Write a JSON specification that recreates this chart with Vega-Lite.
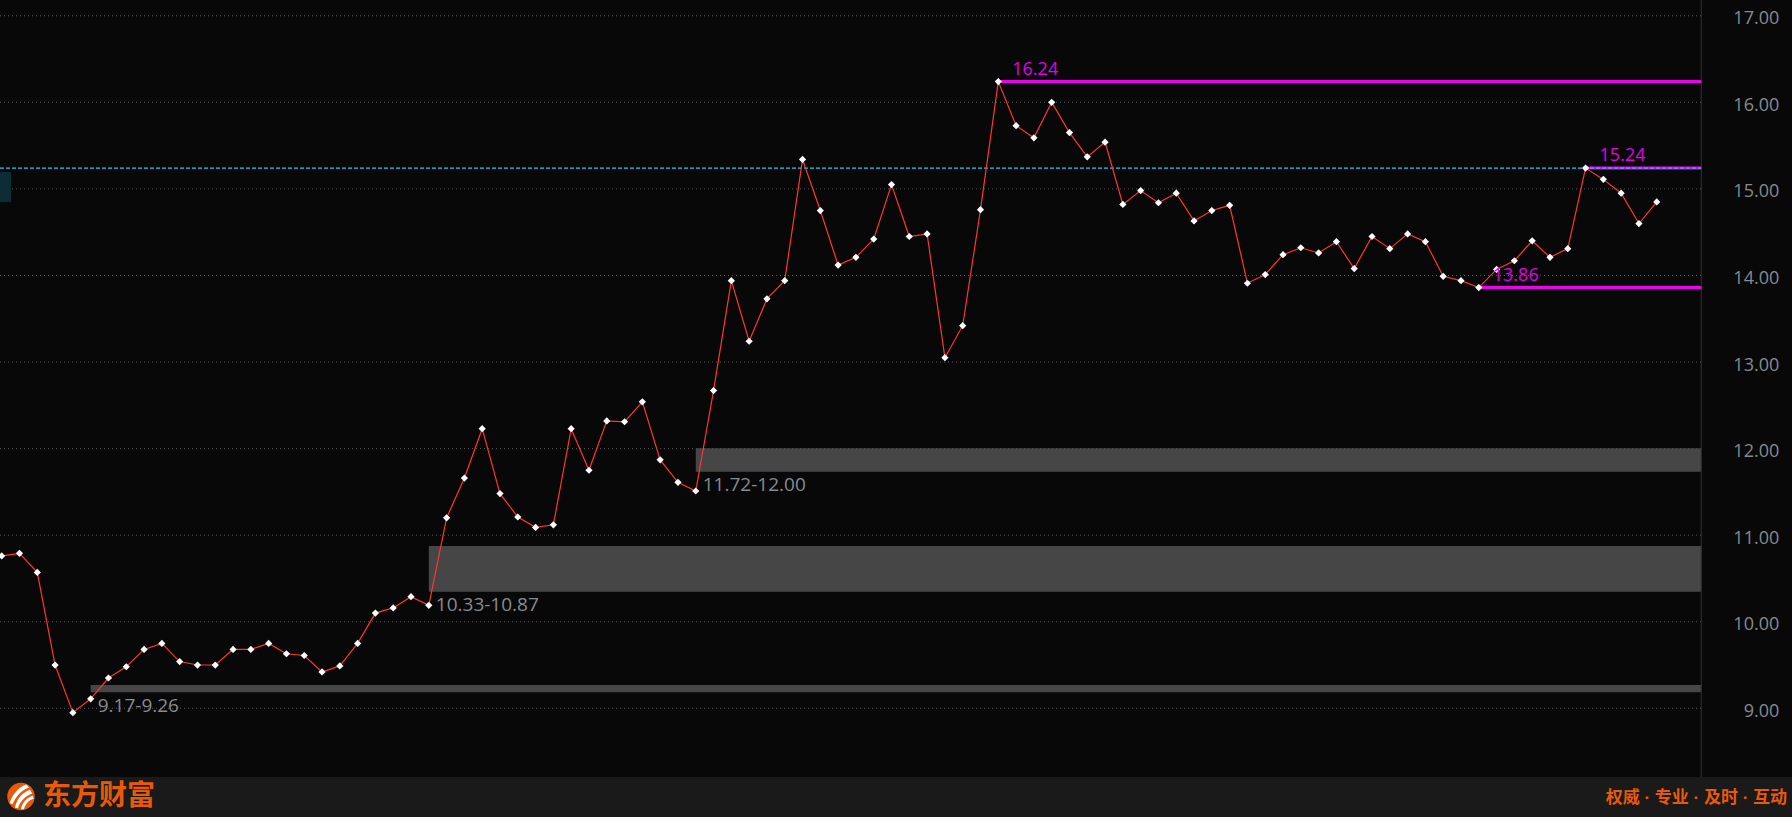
{
  "$schema": "https://vega.github.io/schema/vega-lite/v6.json",
  "width": 1792,
  "height": 817,
  "autosize": {"type": "none"},
  "padding": 0,
  "background": "#080808",
  "config": {"view": {"stroke": null}, "text": {"font": "Open Sans"}},
  "datasets": {
    "prices": [
      {"i": 0, "v": 10.76}, {"i": 1, "v": 10.79}, {"i": 2, "v": 10.57}, {"i": 3, "v": 9.50}, {"i": 4, "v": 8.95},
      {"i": 5, "v": 9.11}, {"i": 6, "v": 9.35}, {"i": 7, "v": 9.48}, {"i": 8, "v": 9.68}, {"i": 9, "v": 9.75},
      {"i": 10, "v": 9.54}, {"i": 11, "v": 9.50}, {"i": 12, "v": 9.50}, {"i": 13, "v": 9.68}, {"i": 14, "v": 9.68},
      {"i": 15, "v": 9.75}, {"i": 16, "v": 9.63}, {"i": 17, "v": 9.61}, {"i": 18, "v": 9.42}, {"i": 19, "v": 9.49},
      {"i": 20, "v": 9.75}, {"i": 21, "v": 10.10}, {"i": 22, "v": 10.16}, {"i": 23, "v": 10.29}, {"i": 24, "v": 10.19},
      {"i": 25, "v": 11.20}, {"i": 26, "v": 11.66}, {"i": 27, "v": 12.23}, {"i": 28, "v": 11.48}, {"i": 29, "v": 11.21},
      {"i": 30, "v": 11.09}, {"i": 31, "v": 11.12}, {"i": 32, "v": 12.23}, {"i": 33, "v": 11.75}, {"i": 34, "v": 12.32},
      {"i": 35, "v": 12.31}, {"i": 36, "v": 12.54}, {"i": 37, "v": 11.87}, {"i": 38, "v": 11.61}, {"i": 39, "v": 11.51},
      {"i": 40, "v": 12.67}, {"i": 41, "v": 13.94}, {"i": 42, "v": 13.24}, {"i": 43, "v": 13.73}, {"i": 44, "v": 13.94},
      {"i": 45, "v": 15.34}, {"i": 46, "v": 14.75}, {"i": 47, "v": 14.12}, {"i": 48, "v": 14.21}, {"i": 49, "v": 14.42},
      {"i": 50, "v": 15.05}, {"i": 51, "v": 14.45}, {"i": 52, "v": 14.48}, {"i": 53, "v": 13.05}, {"i": 54, "v": 13.42},
      {"i": 55, "v": 14.76}, {"i": 56, "v": 16.24}, {"i": 57, "v": 15.73}, {"i": 58, "v": 15.59}, {"i": 59, "v": 16.00},
      {"i": 60, "v": 15.65}, {"i": 61, "v": 15.37}, {"i": 62, "v": 15.54}, {"i": 63, "v": 14.82}, {"i": 64, "v": 14.98},
      {"i": 65, "v": 14.84}, {"i": 66, "v": 14.95}, {"i": 67, "v": 14.63}, {"i": 68, "v": 14.75}, {"i": 69, "v": 14.81},
      {"i": 70, "v": 13.91}, {"i": 71, "v": 14.01}, {"i": 72, "v": 14.24}, {"i": 73, "v": 14.32}, {"i": 74, "v": 14.26},
      {"i": 75, "v": 14.39}, {"i": 76, "v": 14.08}, {"i": 77, "v": 14.45}, {"i": 78, "v": 14.31}, {"i": 79, "v": 14.48},
      {"i": 80, "v": 14.39}, {"i": 81, "v": 13.99}, {"i": 82, "v": 13.94}, {"i": 83, "v": 13.86}, {"i": 84, "v": 14.07},
      {"i": 85, "v": 14.17}, {"i": 86, "v": 14.40}, {"i": 87, "v": 14.21}, {"i": 88, "v": 14.31}, {"i": 89, "v": 15.24},
      {"i": 90, "v": 15.11}, {"i": 91, "v": 14.95}, {"i": 92, "v": 14.60}, {"i": 93, "v": 14.85}
    ],
    "bands": [
      {"start": 5, "lo": 9.185, "hi": 9.268, "label": "9.17-9.26"},
      {"start": 24, "lo": 10.345, "hi": 10.875, "label": "10.33-10.87"},
      {"start": 39, "lo": 11.732, "hi": 12.005, "label": "11.72-12.00"}
    ],
    "levels": [
      {"start": 56, "v": 16.24, "label": "16.24"},
      {"start": 89, "v": 15.24, "label": "15.24"},
      {"start": 83, "v": 13.86, "label": "13.86"}
    ],
    "grid": [{"g": 9}, {"g": 10}, {"g": 11}, {"g": 12}, {"g": 13}, {"g": 14}, {"g": 15}, {"g": 16}, {"g": 17}],
    "one": [{"k": 1}]
  },
  "layer": [
    {
      "data": {"name": "grid"},
      "mark": {"type": "rule", "stroke": "#5a5a5a", "strokeWidth": 1, "strokeDash": [1, 3]},
      "encoding": {
        "x": {"datum": -0.0955, "type": "quantitative", "scale": {"domain": [-0.0955, 100.6], "nice": false, "zero": false}, "axis": null},
        "x2": {"datum": 95.5},
        "y": {"field": "g", "type": "quantitative", "scale": {"domain": [7.7444, 17.182], "nice": false, "zero": false},
          "axis": {"orient": "right", "offset": -91, "values": [9, 10, 11, 12, 13, 14, 15, 16, 17],
            "domain": false, "grid": false, "ticks": true, "tickSize": 4, "tickColor": "#4a4a4a", "labels": false, "title": null}}
      }
    },
    {
      "data": {"name": "grid"},
      "mark": {"type": "text", "align": "right", "baseline": "middle", "dx": 78, "dy": 3.5, "fontSize": 18, "fill": "#868a8f", "font": "Open Sans"},
      "encoding": {
        "x": {"datum": 95.5, "type": "quantitative", "scale": {"domain": [-0.0955, 100.6], "nice": false, "zero": false}, "axis": null},
        "y": {"field": "g", "type": "quantitative", "scale": {"domain": [7.7444, 17.182], "nice": false, "zero": false}, "axis": null},
        "text": {"field": "g", "type": "quantitative", "format": ".2f"}
      }
    },
    {
      "data": {"name": "one"},
      "mark": {"type": "rect", "fill": "#0e2c36"},
      "encoding": {
        "x": {"datum": -0.0955, "type": "quantitative", "scale": {"domain": [-0.0955, 100.6], "nice": false, "zero": false}, "axis": null},
        "x2": {"datum": 0.5226},
        "y": {"datum": 14.849, "type": "quantitative", "scale": {"domain": [7.7444, 17.182], "nice": false, "zero": false}, "axis": null},
        "y2": {"datum": 15.195}
      }
    },
    {
      "data": {"name": "bands"},
      "mark": {"type": "rect", "fill": "#464646"},
      "encoding": {
        "x": {"field": "start", "type": "quantitative", "scale": {"domain": [-0.0955, 100.6], "nice": false, "zero": false}, "axis": null},
        "x2": {"datum": 95.5},
        "y": {"field": "lo", "type": "quantitative", "scale": {"domain": [7.7444, 17.182], "nice": false, "zero": false}, "axis": null},
        "y2": {"field": "hi"}
      }
    },
    {
      "data": {"name": "bands"},
      "mark": {"type": "text", "align": "left", "baseline": "middle", "dx": 7, "dy": 13.5, "fontSize": 19, "fill": "#868b90", "font": "Open Sans"},
      "encoding": {
        "x": {"field": "start", "type": "quantitative", "scale": {"domain": [-0.0955, 100.6], "nice": false, "zero": false}, "axis": null},
        "y": {"field": "lo", "type": "quantitative", "scale": {"domain": [7.7444, 17.182], "nice": false, "zero": false}, "axis": null},
        "text": {"field": "label"}
      }
    },
    {
      "data": {"name": "one"},
      "mark": {"type": "rule", "stroke": "#333333", "strokeWidth": 1},
      "encoding": {
        "x": {"datum": 95.5, "type": "quantitative", "scale": {"domain": [-0.0955, 100.6], "nice": false, "zero": false}, "axis": null},
        "y": {"datum": 17.182, "type": "quantitative", "scale": {"domain": [7.7444, 17.182], "nice": false, "zero": false}, "axis": null},
        "y2": {"datum": 8.2064}
      }
    },
    {
      "data": {"name": "levels"},
      "mark": {"type": "rule", "stroke": "#f000f0", "strokeWidth": 3},
      "encoding": {
        "x": {"field": "start", "type": "quantitative", "scale": {"domain": [-0.0955, 100.6], "nice": false, "zero": false}, "axis": null},
        "x2": {"datum": 95.5},
        "y": {"field": "v", "type": "quantitative", "scale": {"domain": [7.7444, 17.182], "nice": false, "zero": false}, "axis": null}
      }
    },
    {
      "data": {"name": "one"},
      "mark": {"type": "rule", "stroke": "#22c4f4", "strokeWidth": 1.2, "strokeDash": [4, 2]},
      "encoding": {
        "x": {"datum": -0.0955, "type": "quantitative", "scale": {"domain": [-0.0955, 100.6], "nice": false, "zero": false}, "axis": null},
        "x2": {"datum": 95.5},
        "y": {"datum": 15.24, "type": "quantitative", "scale": {"domain": [7.7444, 17.182], "nice": false, "zero": false}, "axis": null}
      }
    },
    {
      "data": {"name": "prices"},
      "mark": {"type": "line", "stroke": "#ff3535", "strokeWidth": 1.2},
      "encoding": {
        "x": {"field": "i", "type": "quantitative", "scale": {"domain": [-0.0955, 100.6], "nice": false, "zero": false}, "axis": null},
        "y": {"field": "v", "type": "quantitative", "scale": {"domain": [7.7444, 17.182], "nice": false, "zero": false}, "axis": null}
      }
    },
    {
      "data": {"name": "prices"},
      "mark": {"type": "point", "shape": "diamond", "filled": true, "fill": "#ffffff", "opacity": 1, "size": 52, "strokeWidth": 0},
      "encoding": {
        "x": {"field": "i", "type": "quantitative", "scale": {"domain": [-0.0955, 100.6], "nice": false, "zero": false}, "axis": null},
        "y": {"field": "v", "type": "quantitative", "scale": {"domain": [7.7444, 17.182], "nice": false, "zero": false}, "axis": null}
      }
    },
    {
      "data": {"name": "levels"},
      "mark": {"type": "text", "align": "left", "baseline": "middle", "dx": 14, "dy": -12, "fontSize": 18, "fill": "#e000ea", "font": "Open Sans"},
      "encoding": {
        "x": {"field": "start", "type": "quantitative", "scale": {"domain": [-0.0955, 100.6], "nice": false, "zero": false}, "axis": null},
        "y": {"field": "v", "type": "quantitative", "scale": {"domain": [7.7444, 17.182], "nice": false, "zero": false}, "axis": null},
        "text": {"field": "label"}
      }
    },
    {
      "data": {"name": "one"},
      "mark": {"type": "rect", "fill": "#1a1a1a"},
      "encoding": {
        "x": {"datum": -0.0955, "type": "quantitative", "scale": {"domain": [-0.0955, 100.6], "nice": false, "zero": false}, "axis": null},
        "x2": {"datum": 100.6},
        "y": {"datum": 7.7444, "type": "quantitative", "scale": {"domain": [7.7444, 17.182], "nice": false, "zero": false}, "axis": null},
        "y2": {"datum": 8.2064}
      }
    },
    {
      "data": {"name": "one"},
      "mark": {"type": "point", "shape": "circle", "filled": true, "fill": "#e85a0a", "opacity": 1, "size": 755, "strokeWidth": 0},
      "encoding": {
        "x": {"datum": 1.0845, "type": "quantitative", "scale": {"domain": [-0.0955, 100.6], "nice": false, "zero": false}, "axis": null},
        "y": {"datum": 7.981, "type": "quantitative", "scale": {"domain": [7.7444, 17.182], "nice": false, "zero": false}, "axis": null}
      }
    },
    {
      "data": {"name": "one"},
      "mark": {"type": "point", "shape": "M0.35,-0.8 C-0.2,-0.6 -0.6,-0.1 -0.75,0.45 L-0.55,0.5 C-0.35,0 0.05,-0.45 0.55,-0.6 Z M0.6,-0.45 C0.05,-0.25 -0.3,0.2 -0.4,0.75 L-0.2,0.78 C-0.05,0.3 0.3,-0.05 0.75,-0.2 Z M0.78,-0.05 C0.35,0.1 0.05,0.45 0.0,0.85 L0.2,0.85 C0.3,0.5 0.5,0.25 0.85,0.15 Z", "filled": true, "fill": "#ffffff", "opacity": 1, "size": 900, "strokeWidth": 0},
      "encoding": {
        "x": {"datum": 1.0845, "type": "quantitative", "scale": {"domain": [-0.0955, 100.6], "nice": false, "zero": false}, "axis": null},
        "y": {"datum": 7.981, "type": "quantitative", "scale": {"domain": [7.7444, 17.182], "nice": false, "zero": false}, "axis": null}
      }
    },
    {
      "data": {"name": "one"},
      "mark": {"type": "text", "text": "东方财富", "align": "left", "baseline": "middle", "fontSize": 28, "fontWeight": "bold", "fill": "#e85a0a", "font": "Noto Sans CJK SC"},
      "encoding": {
        "x": {"datum": 2.321, "type": "quantitative", "scale": {"domain": [-0.0955, 100.6], "nice": false, "zero": false}, "axis": null},
        "y": {"datum": 7.9754, "type": "quantitative", "scale": {"domain": [7.7444, 17.182], "nice": false, "zero": false}, "axis": null}
      }
    },
    {
      "data": {"name": "one"},
      "mark": {"type": "text", "text": "权威 · 专业 · 及时 · 互动", "align": "right", "baseline": "middle", "fontSize": 17, "fontWeight": "bold", "fill": "#e85a0a", "font": "Liberation Sans, Noto Sans CJK SC"},
      "encoding": {
        "x": {"datum": 100.32, "type": "quantitative", "scale": {"domain": [-0.0955, 100.6], "nice": false, "zero": false}, "axis": null},
        "y": {"datum": 7.964, "type": "quantitative", "scale": {"domain": [7.7444, 17.182], "nice": false, "zero": false}, "axis": null}
      }
    }
  ]
}
